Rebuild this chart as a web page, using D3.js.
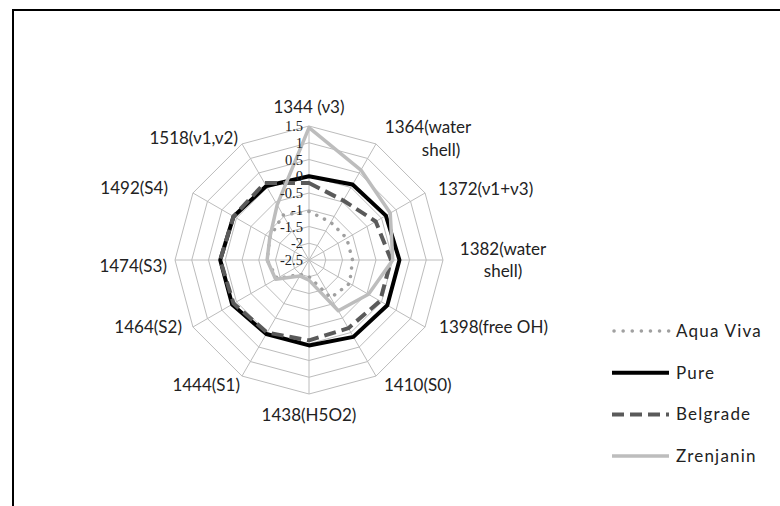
<!DOCTYPE html>
<html>
<head>
<meta charset="utf-8">
<script src="https://cdn.jsdelivr.net/npm/d3@7"></script>
<style>
  body { margin: 0; background: #fff; }
  svg { display: block; }
</style>
</head>
<body>
<svg id="chart" width="780" height="506"></svg>
<script>
// axis categories, clockwise from the top
var categories = ["1344 (ν3)", "1364(water\nshell)", "1372(ν1+ν3)", "1382(water\nshell)", "1398(free OH)",
	"1410(S0)", "1438(H5O2)", "1444(S1)", "1464(S2)", "1474(S3)", "1492(S4)", "1518(ν1,ν2)"];
var tickValues = [-2.5, -2, -1.5, -1, -0.5, 0, 0.5, 1, 1.5];
var seriesNames = ["Aqua Viva", "Pure", "Belgrade", "Zrenjanin"];

var aquaViva  = [-1.05, -1.2, -1.2, -1.2, -1.1, -1.2, -2.0, -2.0, -1.4, -1.25, -1.15, -0.95];
var pure      = [0.0, 0.1, 0.15, 0.2, 0.2, 0.15, 0.05, 0.05, 0.15, 0.15, 0.1, 0.05];
var belgrade  = [-0.2, -0.45, -0.2, -0.05, -0.05, -0.15, -0.1, 0.0, 0.1, 0.15, 0.1, 0.15];
var zrenjanin = [1.45, 0.6, 0.3, 0.0, -0.45, -0.75, -1.9, -1.95, -1.35, -1.25, -1.15, -0.6];

var seriesData = [aquaViva, pure, belgrade, zrenjanin];
var seriesStyle = [
	{ color: "#a0a0a0", width: 3.5, dash: "0.1 8.5", cap: "round" },
	{ color: "#000000", width: 4, dash: null, cap: "butt" },
	{ color: "#5a5a5a", width: 4, dash: "12 6", cap: "butt" },
	{ color: "#bdbdbd", width: 3.5, dash: null, cap: "butt" }
];

var svg = d3.select("#chart");
var cx = 309, cy = 260, radius = 134;
var labelFont = "Lato, 'Open Sans', sans-serif";

// outer frame (cut off at right and bottom like the original)
svg.append("rect")
	.attr("x", 13).attr("y", 10)
	.attr("width", 800).attr("height", 600)
	.attr("fill", "none")
	.attr("stroke", "#000")
	.attr("stroke-width", 2);

var r = d3.scaleLinear().domain([-2.5, 1.5]).range([0, radius]);
var angle = d3.scaleLinear().domain([0, categories.length]).range([0, 2 * Math.PI]);

function point(i, v) {
	var a = angle(i);
	return [cx + r(v) * Math.sin(a), cy - r(v) * Math.cos(a)];
}

var g = svg.append("g");

// grid rings
tickValues.slice(1).forEach(function(t) {
	var pts = categories.map(function(c, i) { return point(i, t); });
	g.append("polygon")
		.attr("points", pts.map(function(p) { return p.join(","); }).join(" "))
		.attr("fill", "none")
		.attr("stroke", "#bcbcbc")
		.attr("stroke-width", 1);
});

// spokes
categories.forEach(function(c, i) {
	var p = point(i, 1.5);
	g.append("line")
		.attr("x1", cx).attr("y1", cy)
		.attr("x2", p[0]).attr("y2", p[1])
		.attr("stroke", "#bcbcbc")
		.attr("stroke-width", 1);
});

// series
var line = d3.line().curve(d3.curveLinearClosed);
seriesData.forEach(function(vals, k) {
	var st = seriesStyle[k];
	g.append("path")
		.attr("d", line(vals.map(function(v, i) { return point(i, v); })))
		.attr("fill", "none")
		.attr("stroke", st.color)
		.attr("stroke-width", st.width)
		.attr("stroke-dasharray", st.dash)
		.attr("stroke-linecap", st.cap)
		.attr("stroke-linejoin", "round");
});

// tick labels along the top spoke
tickValues.forEach(function(t) {
	g.append("text")
		.attr("x", cx - 6)
		.attr("y", cy - r(t) + 5)
		.attr("text-anchor", "end")
		.attr("font-family", "'Liberation Serif', serif")
		.attr("font-size", 14.5)
		.attr("fill", "#222")
		.text(t);
});

// category labels: anchor and nudge from the spoke end (Excel-like placement)
var labelPlace = [
	["middle", 0, -19], ["middle", 52, -16], ["start", 13, -4], ["middle", 60, -11],
	["start", 14, 0], ["start", 8, 9], ["middle", 0, 21], ["end", -2, 9],
	["end", -11, 0], ["end", -8, 6], ["end", -25, -5], ["end", -4, -5]
];
categories.forEach(function(c, i) {
	var end = point(i, 1.5);
	var pl = labelPlace[i];
	var lines = c.split("\n");
	var t = g.append("text")
		.attr("font-family", labelFont)
		.attr("font-size", 17)
		.attr("fill", "#222")
		.attr("text-anchor", pl[0]);
	lines.forEach(function(s, j) {
		t.append("tspan")
			.attr("x", end[0] + pl[1] + (i === 1 ? j * 13 : 0))
			.attr("y", end[1] + pl[2] + 5.5 + j * 22.5)
			.text(s);
	});
});

// legend
var legend = svg.append("g").attr("transform", "translate(612, 331)");
seriesNames.forEach(function(name, k) {
	var st = seriesStyle[k];
	var row = legend.append("g").attr("transform", "translate(0," + (k * 41.7) + ")");
	row.append("line")
		.attr("x1", k === 0 ? 2 : 0).attr("x2", 57)
		.attr("y1", 0).attr("y2", 0)
		.attr("stroke", st.color)
		.attr("stroke-width", st.width)
		.attr("stroke-dasharray", k === 0 ? "0.1 9" : st.dash)
		.attr("stroke-linecap", st.cap);
	row.append("text")
		.attr("x", 64)
		.attr("y", 6)
		.attr("font-family", labelFont)
		.attr("font-size", 17)
		.attr("letter-spacing", 1.2)
		.attr("fill", "#222")
		.text(name);
});
</script>
</body>
</html>
